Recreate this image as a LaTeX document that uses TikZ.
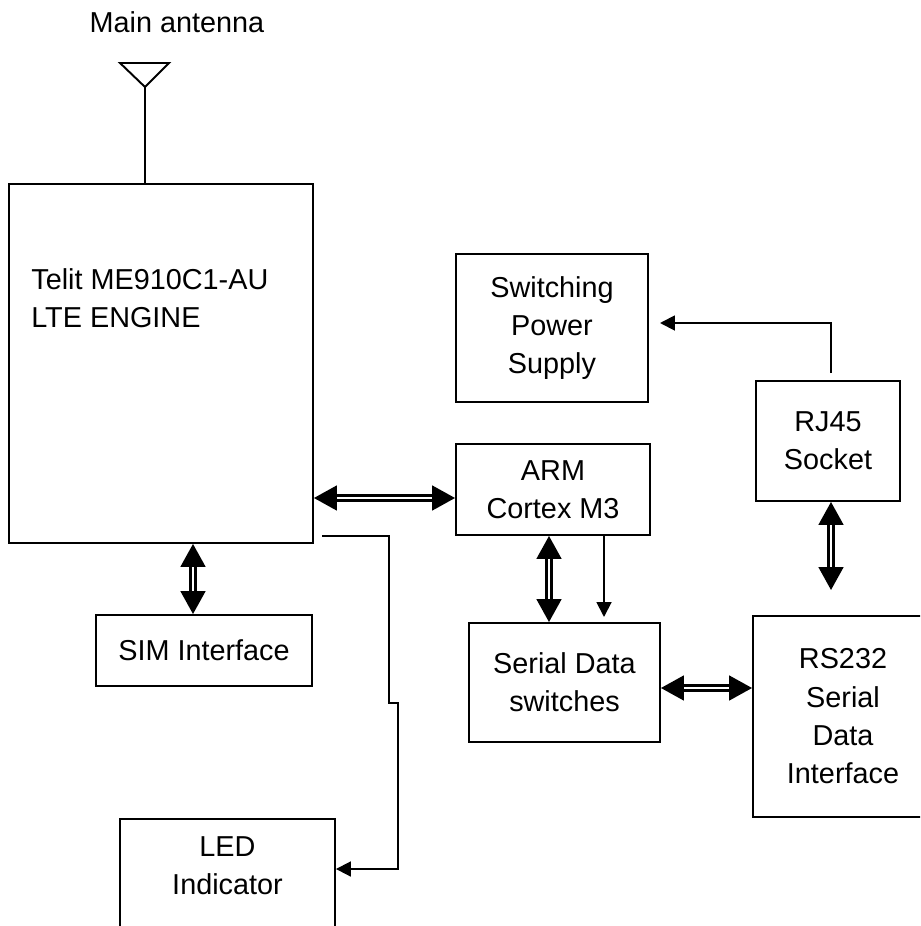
\documentclass[tikz,border=0pt]{standalone}
\usepackage{fontspec}
\setmainfont{Liberation Sans}
\usetikzlibrary{arrows.meta}

\begin{document}
\begin{tikzpicture}[x=0.02cm, y=-0.02cm,
  font=\fontsize{16.4}{21.8}\selectfont,
  box/.style={draw, line width=1.1pt, align=center, inner sep=0pt},
  dblarrow/.style={double, line width=1.4pt, double distance=1.4pt,
    {Triangle[length=13pt, width=14pt]}-{Triangle[length=13pt, width=14pt]}},
  sglarrow/.style={line width=1.1pt, -{Triangle[length=8.5pt, width=8.5pt]}}]
  % page
  \path[use as bounding box, clip] (0,0) rectangle (920,926);

  % Main antenna
  \node[inner sep=0pt] (anttext) at (177,22) {Main antenna};
  \coordinate (antfeed) at (145,87);
  \draw[line width=1.1pt] (120,63) -- (169,63) -- (antfeed) -- cycle;

  % Telit module
  \node[box, minimum width=6.08cm, minimum height=7.18cm] (telit) at (161,363.5) {};
  \node[anchor=west, align=left, inner sep=0pt] (telittext) at (31,298.5) {Telit ME910C1-AU\\LTE ENGINE};
  \draw[line width=1.1pt] (antfeed) -- (antfeed |- telit.north);

  % SIM Interface
  \node[box, minimum width=4.32cm, minimum height=1.42cm] (sim) at (204,650.5) {SIM Interface};
  \coordinate (simbus) at (193,600);
  \draw[dblarrow] (telit.south -| simbus) -- (sim.north -| simbus);

  % LED Indicator
  \node[box, minimum width=4.3cm, minimum height=3cm, anchor=north] (led) at (227.5,818) {};
  \node[align=center, inner sep=0pt] (ledtext) at (227.5,866) {LED\\Indicator};
  \coordinate (ledtap) at (322,536);
  \coordinate (ledin) at (300,869);
  \draw[sglarrow] (ledtap) -- (389,536) -- (389,703) -- (398,703) -- (398,869) -- (led.east |- ledin);

  % ARM
  \node[box, minimum width=3.88cm, minimum height=1.82cm] (arm) at (553,489.5) {ARM\\Cortex M3};
  \coordinate (bus) at (400,498);
  \draw[dblarrow] (telit.east |- bus) -- (arm.west |- bus);

  % Switching Power Supply
  \node[box, minimum width=3.84cm, minimum height=2.96cm] (psu) at (552,328) {Switching\\Power\\Supply};

  % RJ45
  \node[box, minimum width=2.88cm, minimum height=2.4cm] (rj) at (828,441) {RJ45\\Socket};
  \coordinate (rjtop) at (831,373);
  \coordinate (psuin) at (660,323);
  \draw[sglarrow] (rjtop) |- (psuin);

  % Serial Data switches
  \node[box, minimum width=3.82cm, minimum height=2.38cm] (sw) at (564.5,682.5) {Serial Data\\switches};
  \coordinate (swbus) at (549,580);
  \draw[dblarrow] (arm.south -| swbus) -- (sw.north -| swbus);
  \coordinate (armout) at (604,535);
  \coordinate (swin) at (604,617);
  \draw[sglarrow] (armout) -- (swin);

  % RS232
  \node[box, minimum width=3.6cm, minimum height=4.02cm] (rs) at (843,716.5) {RS232\\Serial\\Data\\Interface};
  \coordinate (rsbus) at (700,688);
  \draw[dblarrow] (sw.east |- rsbus) -- (rs.west |- rsbus);
  \coordinate (rsgap) at (831,590);
  \draw[dblarrow] (rj.south -| rsgap) -- (rsgap);
\end{tikzpicture}
\end{document}
